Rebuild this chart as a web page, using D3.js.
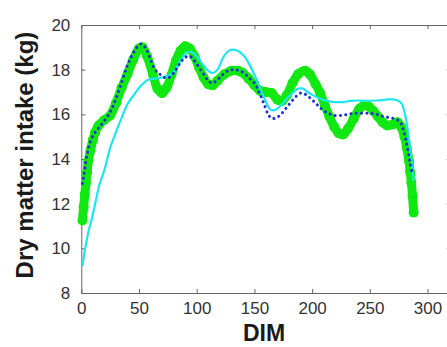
<!DOCTYPE html>
<html>
<head>
<meta charset="utf-8">
<script src="https://cdn.jsdelivr.net/npm/d3@7"></script>
<style>
  body { margin: 0; background: #fff; }
  svg { display: block; font-family: "Liberation Sans", Arial, sans-serif; }
  .axis path, .axis line { stroke: #666; }
  .axis text { fill: #333; font-size: 17px; }
</style>
</head>
<body>
<svg id="chart" width="447" height="347"></svg>
<script>
// green series (thick line with markers)
const greenDim = [1, 2, 3, 4, 5, 6, 8, 10, 12, 15, 20, 25, 30, 35, 40, 45, 50, 53, 57, 62, 66, 70, 74, 78, 82, 86, 90, 94, 98, 102, 106, 110, 114, 118, 124, 130, 136, 140, 145, 150, 155, 160, 165, 170, 174, 178, 183, 188, 194, 198, 203, 207, 211, 215, 219, 223, 227, 231, 236, 241, 245, 249, 253, 257, 261, 265, 270, 274, 277, 280, 282, 284, 285, 286, 287, 288];
const greenDmi = [11.25, 11.85, 12.4, 12.9, 13.4, 13.9, 14.4, 14.85, 15.2, 15.5, 15.75, 15.95, 16.5, 17.2, 17.8, 18.45, 18.95, 19.0, 18.6, 17.8, 17.15, 16.95, 17.2, 17.75, 18.4, 18.85, 19.05, 18.95, 18.6, 18.1, 17.65, 17.35, 17.3, 17.5, 17.8, 17.95, 17.95, 17.85, 17.6, 17.3, 17.05, 17.0, 16.95, 16.65, 16.6, 16.85, 17.4, 17.8, 17.95, 17.8, 17.35, 16.95, 16.4, 15.9, 15.45, 15.15, 15.1, 15.35, 15.8, 16.25, 16.4, 16.35, 16.15, 15.9, 15.65, 15.5, 15.55, 15.65, 15.45, 15.0, 14.5, 13.9, 13.4, 12.95, 12.35, 11.6];

// blue dotted series
const blueDim = [1, 2, 3, 5, 8, 12, 16, 20, 26, 30, 35, 40, 45, 49, 52, 56, 60, 64, 68, 72, 76, 80, 85, 90, 94, 98, 102, 106, 110, 114, 118, 122, 127, 132, 137, 141, 146, 150, 154, 158, 162, 165, 169, 173, 177, 181, 186, 190, 194, 199, 204, 209, 214, 219, 225, 231, 237, 244, 250, 256, 262, 268, 274, 277, 279, 281, 283, 285, 287];
const blueDmi = [12.9, 13.2, 13.55, 14.2, 14.8, 15.2, 15.45, 15.7, 16.2, 16.7, 17.45, 18.2, 18.75, 19.05, 19.15, 18.95, 18.45, 18.0, 17.8, 17.65, 17.65, 17.85, 18.25, 18.55, 18.6, 18.4, 18.1, 17.8, 17.5, 17.4, 17.55, 17.75, 17.95, 18.0, 17.95, 17.85, 17.6, 17.4, 17.0, 16.5, 16.0, 15.82, 15.85, 16.0, 16.25, 16.5, 16.8, 16.95, 16.9, 16.7, 16.45, 16.2, 16.05, 15.95, 15.95, 16.0, 16.05, 16.05, 16.05, 16.0, 15.9, 15.85, 15.75, 15.6, 15.3, 14.9, 14.4, 13.8, 13.3];

// cyan solid series
const cyanDim = [1, 3, 6, 9, 12, 16, 20, 25, 30, 35, 40, 46, 52, 58, 64, 70, 76, 80, 85, 90, 95, 100, 105, 110, 114, 118, 123, 128, 132, 137, 142, 147, 152, 157, 161, 164, 168, 173, 178, 183, 188, 192, 196, 201, 207, 213, 219, 226, 233, 240, 248, 256, 264, 270, 275, 278, 280, 282, 284, 286, 288];
const cyanDmi = [9.2, 9.9, 10.7, 11.3, 12.0, 12.9, 13.5, 14.5, 15.2, 15.85, 16.45, 16.9, 17.3, 17.55, 17.6, 17.65, 17.75, 17.9, 18.3, 18.7, 18.8, 18.6, 18.25, 17.95, 17.85, 18.0, 18.55, 18.85, 18.9, 18.8, 18.55, 18.1, 17.55, 16.9, 16.45, 16.2, 16.2, 16.4, 16.7, 16.95, 17.15, 17.15, 17.0, 16.85, 16.7, 16.6, 16.55, 16.55, 16.6, 16.62, 16.6, 16.62, 16.66, 16.67, 16.6, 16.45, 16.1, 15.6, 14.9, 14.0, 13.0];

const xTicks = [0, 50, 100, 150, 200, 250, 300];
const yTicks = [8, 10, 12, 14, 16, 18, 20];

const svg = d3.select("#chart");
const x = d3.scaleLinear().domain([0, 320]).range([81.3, 450.6]);
const y = d3.scaleLinear().domain([8, 20]).range([293, 25]);

const zip = (a, b) => a.map((d, i) => [d, b[i]]);
const line = d3.line().x(d => x(d[0])).y(d => y(d[1])).curve(d3.curveCatmullRom.alpha(0.5));

// axes (box style, ticks inward)
svg.append("g").attr("class", "axis").attr("transform", "translate(0,293)")
  .call(d3.axisBottom(x).tickValues(xTicks).tickSizeInner(-4).tickSizeOuter(0).tickPadding(12))
  .call(g => g.selectAll("text").attr("dy", "0.55em"));
svg.append("g").attr("class", "axis").attr("transform", "translate(0,25)")
  .call(d3.axisTop(x).tickValues(xTicks).tickSizeInner(-4).tickSizeOuter(0).tickFormat(""));
svg.append("g").attr("class", "axis").attr("transform", "translate(81.3,0)")
  .call(d3.axisLeft(y).tickValues(yTicks).tickSizeInner(-4).tickSizeOuter(0).tickPadding(11));
svg.append("g").attr("class", "axis").attr("transform", "translate(450.6,0)")
  .call(d3.axisRight(y).tickValues(yTicks).tickSizeInner(-4).tickSizeOuter(0).tickFormat(""));

// green
const green = zip(greenDim, greenDmi);
svg.append("path").datum(green).attr("d", line)
  .attr("fill", "none").attr("stroke", "#11e811").attr("stroke-width", 9).attr("stroke-linejoin", "round");
svg.append("g").selectAll("circle").data(green).join("circle")
  .attr("cx", d => x(d[0])).attr("cy", d => y(d[1])).attr("r", 5).attr("fill", "#11e811");

// cyan
svg.append("path").datum(zip(cyanDim, cyanDmi)).attr("d", line)
  .attr("fill", "none").attr("stroke", "#1ee6f0").attr("stroke-width", 2.2);

// blue dotted
svg.append("path").datum(zip(blueDim, blueDmi)).attr("d", line)
  .attr("fill", "none").attr("stroke", "#2330d0").attr("stroke-width", 3)
  .attr("stroke-linecap", "round").attr("stroke-dasharray", "0.1 5.2");

// labels
svg.append("text").attr("x", 264).attr("y", 341).attr("text-anchor", "middle")
  .attr("font-size", 23).attr("font-weight", "bold").attr("fill", "#1a1a1a").text("DIM");
svg.append("text").attr("transform", "translate(33,155) rotate(-90)").attr("text-anchor", "middle")
  .attr("font-size", 24).attr("font-weight", "bold").attr("fill", "#1a1a1a").text("Dry matter intake (kg)");
</script>
</body>
</html>
